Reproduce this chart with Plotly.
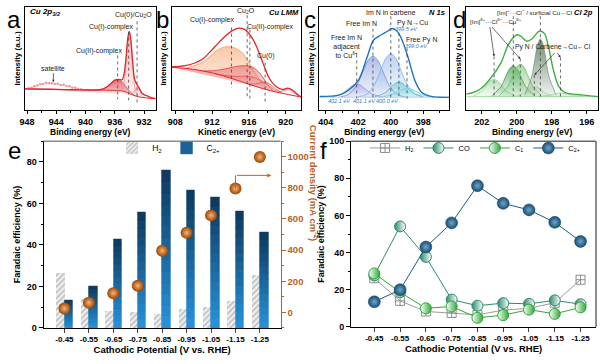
import plotly.graph_objects as go

FONT = "Liberation Sans, Arial, Helvetica, sans-serif"

# ---------------- panel a : Cu 2p3/2 ----------------
a_base_E = [948.3, 944.0, 940.0, 937.5, 936.0, 935.0, 934.5, 934.0, 933.5, 933.0, 932.5, 932.0, 931.0, 930.4]
a_base_I = [20.5, 20.0, 19.5, 19.3, 19.0, 18.5, 17.5, 16.0, 14.5, 13.3, 12.5, 12.0, 11.3, 11.0]
a_fit_E = [948.3, 946, 944, 942, 940, 939, 938, 937.2, 936.5, 936.0, 935.5, 935.0, 934.7, 934.4, 934.2,
           934.0, 933.8, 933.6, 933.3, 933.0, 932.7, 932.3, 932.0, 931.5, 931.0, 930.4]
a_fit_I = [20.5, 20.3, 20.0, 19.7, 19.5, 19.4, 19.8, 21.8, 26.0, 29.0, 29.7, 29.3, 35.7, 55.6, 70.8,
           76.0, 68.0, 50.7, 30.2, 25.0, 21.8, 16.5, 15.0, 13.5, 12.0, 11.0]
a_cu2_E = [938.5, 937.5, 936.8, 936.2, 935.6, 935.0, 934.4, 933.8, 933.2]
a_cu2_I = [19.4, 20.7, 24.0, 27.9, 29.7, 27.4, 22.0, 17.1, 13.7]
a_cu1_E = [935.2, 934.8, 934.5, 934.25, 934.0, 933.75, 933.5, 933.2, 932.8]
a_cu1_I = [18.6, 24.7, 42.2, 63.8, 74.0, 62.2, 39.2, 20.2, 13.0]
a_cu0_E = [933.8, 933.4, 933.1, 932.9, 932.6, 932.3, 931.9]
a_cu0_I = [15.4, 17.6, 21.9, 23.1, 19.5, 14.3, 11.9]
a_sat_E = [947.8, 947.4, 947.0, 946.6, 946.2, 945.8, 945.4, 945.0, 944.6, 944.2, 943.8, 943.4, 943.0,
           942.6, 942.2, 941.8, 941.4, 941.0, 940.6]
a_sat_I = [21.2, 21.6, 23.1, 23.8, 25.1, 25.3, 26.4, 25.9, 26.1, 25.2, 25.4, 24.3, 24.5, 23.2, 23.0,
           21.7, 21.5, 20.4, 20.2]

# ---------------- panel b : Cu LMM ----------------
b_base_E = [907.6, 910.0, 912.0, 914.0, 916.0, 918.0, 920.0, 921.7]
b_base_I = [41.5, 39.5, 36.0, 31.0, 25.0, 19.5, 15.5, 12.5]
b_fit_E = [907.6, 909.1, 910.9, 912.0, 913.1, 914.2, 914.9, 915.6, 916.4, 916.9, 917.5, 918.2, 918.9,
           919.6, 920.2, 920.7, 921.45, 921.7]
b_fit_I = [42.0, 43.0, 49.0, 58.5, 69.0, 77.0, 79.4, 77.8, 69.0, 60.0, 46.0, 30.8, 23.0, 20.0, 21.2,
           19.4, 13.8, 12.5]
b_cu1_E = [909.0, 910.9, 912.0, 912.7, 913.6, 914.5, 915.3, 916.0, 916.7, 917.5, 918.2]
b_cu1_I = [40.2, 46.0, 53.8, 59.0, 61.5, 60.0, 55.4, 46.0, 35.4, 26.0, 19.3]
b_cu2o_E = [911.0, 912.5, 913.7, 914.8, 915.6, 916.4, 917.2, 918.0, 918.6]
b_cu2o_I = [37.8, 38.5, 40.5, 42.5, 43.0, 41.5, 35.5, 25.0, 18.5]
b_cuii_E = [912.2, 913.5, 914.6, 915.6, 916.4, 917.2, 918.0, 918.8, 919.4]
b_cuii_I = [35.6, 33.5, 32.6, 32.8, 32.0, 29.0, 24.5, 19.5, 16.8]
b_cu0_E = [916.0, 916.8, 917.4, 917.8, 918.3, 918.9, 919.5]
b_cu0_I = [25.0, 25.5, 26.5, 26.8, 25.0, 20.5, 17.1]
b_sat_E = [919.3, 919.8, 920.3, 920.8, 921.3]
b_sat_I = [17.3, 19.0, 20.5, 18.0, 13.4]

# ---------------- panel c : N 1s ----------------
c_base_E = [404.4, 396.4]
c_base_I = [12.5, 12.5]
c_fit_E = [404.4, 403.2, 402.59, 401.98, 401.47, 401.07, 400.66, 400.15, 399.95, 399.64, 399.34,
           398.93, 398.53, 398.12, 397.51, 396.4]
c_fit_I = [13.2, 14.5, 19.4, 29.2, 50.8, 67.7, 72.3, 76.9, 79.1, 76.9, 69.2, 50.8, 29.2, 17.5, 13.2, 12.3]
c_p4021_E = [403.6, 403.0, 402.6, 402.3, 402.1, 401.9, 401.6, 401.2, 400.6]
c_p4021_I = [12.8, 15.9, 20.9, 24.4, 25.2, 24.4, 20.9, 15.9, 12.8]
c_p4011_E = [403.1, 402.6, 402.1, 401.7, 401.4, 401.1, 400.8, 400.5, 400.1, 399.6, 399.1]
c_p4011_I = [12.8, 15.0, 24.0, 38.0, 48.1, 52.3, 48.1, 38.0, 24.0, 15.0, 12.8]
c_p4000_E = [402.0, 401.5, 401.0, 400.6, 400.3, 400.0, 399.7, 399.4, 399.0, 398.5, 398.0]
c_p4000_I = [12.8, 15.2, 24.8, 39.6, 50.4, 54.8, 50.4, 39.6, 24.8, 15.2, 12.8]
c_p3995_E = [401.0, 400.4, 400.0, 399.7, 399.5, 399.3, 399.0, 398.6, 398.0]
c_p3995_I = [12.9, 16.3, 22.1, 26.1, 27.0, 26.1, 22.1, 16.3, 12.9]
c_p3990_E = [400.6, 400.0, 399.5, 399.2, 399.0, 398.8, 398.5, 398.0, 397.4]
c_p3990_I = [12.7, 14.6, 18.5, 20.5, 21.0, 20.5, 18.5, 14.6, 12.7]

# ---------------- panel d : Cl 2p ----------------
d_base_E = [202.9, 195.35]
d_base_I = [13.0, 13.0]
d_fit_E = [202.9, 202.5, 202.06, 201.5, 200.9, 200.54, 200.26, 199.97, 199.75, 199.44, 199.12, 198.8,
           198.65, 198.4, 198.17, 197.9, 197.6, 197.23, 196.75, 196.2, 195.35]
d_fit_I = [15.4, 17.0, 20.6, 30.8, 46.0, 61.5, 69.2, 73.0, 71.4, 66.8, 69.2, 75.4, 76.6, 73.8, 60.0,
           38.5, 23.0, 16.9, 15.4, 14.5, 13.0]
d_p2012_E = [202.5, 202.0, 201.7, 201.5, 201.3, 201.1, 200.9, 200.6, 200.1]
d_p2012_I = [13.6, 18.5, 24.7, 28.3, 29.8, 28.3, 24.7, 18.5, 13.6]
d_p2002_E = [201.4, 200.9, 200.6, 200.4, 200.2, 200.0, 199.8, 199.5, 199.0]
d_p2002_I = [14.1, 22.9, 33.7, 40.3, 43.0, 40.3, 33.7, 22.9, 14.1]
d_p1998_E = [201.0, 200.5, 200.2, 200.0, 199.8, 199.6, 199.4, 199.1, 198.6]
d_p1998_I = [14.2, 23.4, 34.8, 41.8, 44.6, 41.8, 34.8, 23.4, 14.2]
d_p1990_E = [200.0, 199.6, 199.3, 199.0, 198.7, 198.4, 198.0]
d_p1990_I = [13.6, 16.7, 20.8, 23.0, 20.8, 16.7, 13.6]
d_p1987_E = [199.55, 199.15, 198.95, 198.8, 198.65, 198.5, 198.35, 198.15, 197.75]
d_p1987_I = [14.7, 32.0, 51.0, 63.8, 69.0, 63.8, 51.0, 32.0, 14.7]
d_p1975_E = [198.7, 198.2, 197.8, 197.5, 197.2, 196.8, 196.3]
d_p1975_I = [13.2, 14.4, 15.9, 16.5, 15.9, 14.4, 13.2]

# ---------------- panels e / f ----------------
potentials = ["-0.45", "-0.55", "-0.65", "-0.75", "-0.85", "-0.95", "-1.05", "-1.15", "-1.25"]
fe_h2 = [26.2, 14.0, 8.3, 7.5, 6.5, 9.0, 10.0, 13.0, 25.4]
fe_c2 = [13.5, 20.0, 43.0, 56.0, 76.0, 66.5, 63.0, 56.3, 46.0]
current_density = [25, 62, 123, 171, 396, 511, 623, 796, 998]
fe_co = [27.8, 54.1, 37.7, 14.7, 11.4, 12.8, 12.4, 14.3, 12.2]
fe_c1 = [28.8, 18.7, 10.0, 11.0, 4.9, 6.3, 9.3, 7.0, 10.5]

# ======================================================
fig = go.Figure()


def rgba(hexc, a):
    hexc = hexc.lstrip("#")
    return "rgba(%d,%d,%d,%s)" % (int(hexc[0:2], 16), int(hexc[2:4], 16), int(hexc[4:6], 16), a)


def mix(c1, c2, t):
    c1 = c1.lstrip("#"); c2 = c2.lstrip("#")
    v = [round(int(c1[i:i + 2], 16) * (1 - t) + int(c2[i:i + 2], 16) * t) for i in (0, 2, 4)]
    return "rgb(%d,%d,%d)" % tuple(v)


def add_line(E, I, color, xa, ya, width=1.2):
    fig.add_trace(go.Scatter(x=E, y=I, mode="lines",
                             line=dict(color=color, width=width, shape="spline", smoothing=0.8),
                             hoverinfo="skip", showlegend=False, xaxis=xa, yaxis=ya))


def add_comp(E, I, bE, bI, edge, fill, xa, ya, a_top=0.6, a_bot=0.06):
    fig.add_trace(go.Scatter(x=bE, y=bI, mode="lines", line=dict(width=0, color="rgba(0,0,0,0)"),
                             hoverinfo="skip", showlegend=False, xaxis=xa, yaxis=ya))
    fig.add_trace(go.Scatter(x=E, y=I, mode="lines",
                             line=dict(color=edge, width=0.8, shape="spline", smoothing=0.8),
                             fill="tonexty",
                             fillgradient=dict(type="vertical",
                                               colorscale=[[0, rgba(fill, a_bot)], [1, rgba(fill, a_top)]]),
                             hoverinfo="skip", showlegend=False, xaxis=xa, yaxis=ya))


# ---- a ----
add_comp(a_cu2_E, a_cu2_I, a_base_E, a_base_I, "#e0474f", "#de3c46", "x", "y", 0.75, 0.1)
add_comp(a_cu1_E, a_cu1_I, a_base_E, a_base_I, "#f08a8f", "#f27b82", "x", "y", 0.55, 0.08)
add_comp(a_cu0_E, a_cu0_I, a_base_E, a_base_I, "#f0a0a4", "#f39aa0", "x", "y", 0.5, 0.08)
add_line(a_base_E, a_base_I, "#e3262b", "x", "y", 1.0)
fig.add_trace(go.Scatter(x=a_sat_E, y=a_sat_I, mode="lines+markers",
                         line=dict(color="#f5b3b3", width=0.8), marker=dict(size=2.5, color="#f29a9a"),
                         hoverinfo="skip", showlegend=False, xaxis="x", yaxis="y"))
add_line(a_fit_E, a_fit_I, "#e3262b", "x", "y", 1.3)

# ---- b ----
add_comp(b_cu1_E, b_cu1_I, b_base_E, b_base_I, "#f39a5b", "#f6a46e", "x2", "y2", 0.6, 0.1)
add_comp(b_cu2o_E, b_cu2o_I, b_base_E, b_base_I, "#d93a3f", "#e4575c", "x2", "y2", 0.5, 0.08)
add_comp(b_cuii_E, b_cuii_I, b_base_E, b_base_I, "#e2555b", "#e86a70", "x2", "y2", 0.5, 0.08)
add_comp(b_cu0_E, b_cu0_I, b_base_E, b_base_I, "#e2555b", "#ee8a8e", "x2", "y2", 0.5, 0.08)
add_comp(b_sat_E, b_sat_I, b_base_E, b_base_I, "#e2555b", "#ee8a8e", "x2", "y2", 0.5, 0.08)
add_line(b_base_E, b_base_I, "#e3262b", "x2", "y2", 1.0)
add_line(b_fit_E, b_fit_I, "#e3262b", "x2", "y2", 1.3)

# ---- c ----
add_comp(c_p4021_E, c_p4021_I, c_base_E, c_base_I, "#8f90de", "#9b9be6", "x3", "y3", 0.6, 0.08)
add_comp(c_p4011_E, c_p4011_I, c_base_E, c_base_I, "#7088d6", "#7a92dc", "x3", "y3", 0.6, 0.08)
add_comp(c_p4000_E, c_p4000_I, c_base_E, c_base_I, "#86aee6", "#8fb5ea", "x3", "y3", 0.6, 0.08)
add_comp(c_p3995_E, c_p3995_I, c_base_E, c_base_I, "#4fb9cc", "#5cc0d2", "x3", "y3", 0.6, 0.08)
add_comp(c_p3990_E, c_p3990_I, c_base_E, c_base_I, "#66d2de", "#7fdbe4", "x3", "y3", 0.6, 0.08)
add_line(c_base_E, c_base_I, "#a8c4e4", "x3", "y3", 0.8)
add_line(c_fit_E, c_fit_I, "#1e73be", "x3", "y3", 1.4)

# ---- d ----
add_comp(d_p2012_E, d_p2012_I, d_base_E, d_base_I, "#8fd38c", "#8fd38c", "x4", "y4", 0.65, 0.08)
add_comp(d_p2002_E, d_p2002_I, d_base_E, d_base_I, "#3f9a4a", "#3f9a4a", "x4", "y4", 0.7, 0.08)
add_comp(d_p1998_E, d_p1998_I, d_base_E, d_base_I, "#6cc06a", "#6cc06a", "x4", "y4", 0.6, 0.08)
add_comp(d_p1990_E, d_p1990_I, d_base_E, d_base_I, "#a9dca3", "#a9dca3", "x4", "y4", 0.5, 0.06)
add_comp(d_p1987_E, d_p1987_I, d_base_E, d_base_I, "#7f9c80", "#5f7f62", "x4", "y4", 0.9, 0.08)
add_comp(d_p1975_E, d_p1975_I, d_base_E, d_base_I, "#9fd99a", "#9fd99a", "x4", "y4", 0.5, 0.06)
add_line(d_base_E, d_base_I, "#9ad296", "x4", "y4", 0.8)
add_line(d_fit_E, d_fit_I, "#3cb043", "x4", "y4", 1.4)

# ---- e ----
idx = list(range(len(potentials)))
BW = 0.34
fig.add_trace(go.Bar(x=idx, y=fe_h2, width=BW, offset=-BW, name="H<sub>2</sub>",
                     marker=dict(color="#eeeeee",
                                 pattern=dict(shape="/", fgcolor="#8c8c8c", bgcolor="#efefef",
                                              size=4, solidity=0.4),
                                 line=dict(width=0)),
                     xaxis="x5", yaxis="y5", legend="legend", hoverinfo="skip"))
NSEG = 14
for k in range(NSEG):
    col = mix("#2690d8", "#0f3b60", k / (NSEG - 1))
    fig.add_trace(go.Bar(x=idx, y=[v / NSEG for v in fe_c2], base=[v * k / NSEG for v in fe_c2],
                         width=BW, offset=0, name="C<sub>2+</sub>",
                         marker=dict(color=col, line=dict(width=0.4, color=col)),
                         showlegend=(k == NSEG // 2), xaxis="x5", yaxis="y5", legend="legend",
                         hoverinfo="skip"))
fig.add_trace(go.Scatter(x=idx, y=current_density, mode="markers",
                         marker=dict(size=12, color="#9a4700",
                                     gradient=dict(type="radial", color="#f6b47a"),
                                     line=dict(width=0)),
                         showlegend=False, xaxis="x5", yaxis="y7", hoverinfo="skip"))

# ---- f ----
fig.add_trace(go.Scatter(x=idx, y=fe_h2, mode="lines+markers", name="H<sub>2</sub>",
                         line=dict(color="#9b9b9b", width=1),
                         marker=dict(symbol="square-cross-open", size=9, color="#8c8c8c",
                                     line=dict(width=1)),
                         xaxis="x6", yaxis="y6", legend="legend2", hoverinfo="skip"))
fig.add_trace(go.Scatter(x=idx, y=fe_co, mode="lines+markers", name="CO",
                         line=dict(color="#2e8b6e", width=1),
                         marker=dict(symbol="circle", size=11, color="#2e8b6e",
                                     gradient=dict(type="horizontal", color="#ffffff"),
                                     line=dict(width=1, color="#2e8b6e")),
                         xaxis="x6", yaxis="y6", legend="legend2", hoverinfo="skip"))
fig.add_trace(go.Scatter(x=idx, y=fe_c1, mode="lines+markers", name="C<sub>1</sub>",
                         line=dict(color="#2fa836", width=1),
                         marker=dict(symbol="circle", size=11, color="#ffffff",
                                     gradient=dict(type="horizontal", color="#2fa836"),
                                     line=dict(width=1, color="#2fa836")),
                         xaxis="x6", yaxis="y6", legend="legend2", hoverinfo="skip"))
fig.add_trace(go.Scatter(x=idx, y=fe_c2, mode="lines+markers", name="C<sub>2+</sub>",
                         line=dict(color="#1f5b82", width=1),
                         marker=dict(symbol="circle", size=12, color="#174f74",
                                     gradient=dict(type="radial", color="#6fa6c8"),
                                     line=dict(width=0.5, color="#123f5e")),
                         xaxis="x6", yaxis="y6", legend="legend2", hoverinfo="skip"))

# ======================================================
TICKF = dict(family=FONT, size=9, color="black", weight="bold")
TITLEF = dict(family=FONT, size=8.5, color="black", weight="bold")


def top_x(dom, rng, dtick, title, anchor):
    return dict(domain=dom, range=rng, anchor=anchor, showline=True, linecolor="black", linewidth=1,
                mirror=True, ticks="outside", ticklen=3, tickcolor="black", dtick=dtick, tick0=0,
                minor=dict(dtick=dtick / 2, ticks="outside", ticklen=2, tickcolor="black"),
                tickfont=TICKF, showgrid=False, zeroline=False,
                title=dict(text=title, font=TITLEF, standoff=3))


def top_y(anchor):
    return dict(domain=[0.7033, 0.9945], range=[0, 100], anchor=anchor, showline=True, linecolor="black",
                linewidth=1, mirror=True, showticklabels=False, ticks="", showgrid=False, zeroline=False,
                title=dict(text="Intensity (a.u.)", font=dict(family=FONT, size=8, color="black",
                                                             weight="bold"), standoff=2))


layout = dict(
    width=600, height=364, autosize=False,
    margin=dict(l=0, r=0, t=0, b=0),
    paper_bgcolor="white", plot_bgcolor="white",
    font=dict(family=FONT, color="black"),
    barmode="overlay", bargap=0,
    xaxis=top_x([0.0333, 0.2533], [948.3, 930.4], 4, "Binding energy (eV)", "y"),
    yaxis=top_y("x"),
    xaxis2=top_x([0.28, 0.4983], [907.6, 921.7], 4, "Kinetic energy (eV)", "y2"),
    yaxis2=top_y("x2"),
    xaxis3=top_x([0.5283, 0.7467], [404.4, 396.4], 2, "Binding energy (eV)", "y3"),
    yaxis3=top_y("x3"),
    xaxis4=top_x([0.775, 0.9967], [202.9, 195.35], 2, "Binding energy (eV)", "y4"),
    yaxis4=top_y("x4"),
    xaxis5=dict(domain=[0.065, 0.4633], range=[-0.85, 8.85], anchor="y5", tickvals=idx,
                ticktext=potentials, showline=True, linecolor="black", linewidth=1, ticks="outside",
                ticklen=4, tickfont=dict(family=FONT, size=8, color="black", weight="bold"),
                showgrid=False, zeroline=False,
                title=dict(text="Cathodic Potential (V vs. RHE)",
                           font=dict(family=FONT, size=9.5, color="black", weight="bold"), standoff=2)),
    yaxis5=dict(domain=[0.0879, 0.6154], range=[0, 90], anchor="x5", dtick=20, showline=True,
                linecolor="black", linewidth=1, ticks="outside", ticklen=4, tickcolor="black",
                minor=dict(dtick=10, ticks="outside", ticklen=2, tickcolor="black"),
                tickfont=TICKF, showgrid=False, zeroline=False,
                title=dict(text="Faradaic efficiency (%)",
                           font=dict(family=FONT, size=9, color="black", weight="bold"), standoff=4)),
    yaxis7=dict(overlaying="y5", side="right", anchor="x5", range=[-100, 1100],
                tickvals=[0, 200, 400, 600, 800, 1000],
                showline=True, linecolor="#b8621b", linewidth=1, ticks="outside", ticklen=4,
                tickcolor="#b8621b", minor=dict(dtick=100, tick0=0, ticks="outside", ticklen=2,
                                                 tickcolor="#b8621b"),
                tickfont=dict(family=FONT, size=9.5, color="#b8621b", weight="bold"),
                showgrid=False, zeroline=False),
    xaxis6=dict(domain=[0.5817, 0.9933], range=[-0.9, 8.6], anchor="y6", tickvals=idx,
                ticktext=potentials, showline=True, linecolor="black", linewidth=1, ticks="outside",
                ticklen=4, tickfont=dict(family=FONT, size=8, color="black", weight="bold"),
                showgrid=False, zeroline=False,
                title=dict(text="Cathodic Potential (V vs. RHE)",
                           font=dict(family=FONT, size=9.5, color="black", weight="bold"), standoff=2)),
    yaxis6=dict(domain=[0.0907, 0.6154], range=[0, 100], anchor="x6", dtick=20, showline=True,
                linecolor="black", linewidth=1, ticks="outside", ticklen=4, tickcolor="black",
                minor=dict(dtick=10, ticks="outside", ticklen=2, tickcolor="black"),
                tickfont=TICKF, showgrid=False, zeroline=False,
                title=dict(text="Faradaic efficiency (%)",
                           font=dict(family=FONT, size=9, color="black", weight="bold"), standoff=3)),
    legend=dict(orientation="h", x=0.275, xanchor="center", y=1 - 147 / 364, yanchor="middle",
                bgcolor="rgba(0,0,0,0)", font=dict(family=FONT, size=8.5), itemwidth=30,
                tracegroupgap=0, traceorder="normal"),
    legend2=dict(orientation="h", x=0.79, xanchor="center", y=1 - 147 / 364, yanchor="middle",
                 bgcolor="rgba(0,0,0,0)", font=dict(family=FONT, size=7.5), itemwidth=30,
                 tracegroupgap=0),
)
fig.update_layout(**layout)

# ---------------- shapes ----------------
shapes = []


def vdot(xa, ya, xv, y0, y1):
    shapes.append(dict(type="line", xref=xa, yref=ya, x0=xv, x1=xv, y0=y0, y1=y1,
                       line=dict(color="#444444", width=0.8, dash="dot")))


vdot("x", "y", 935.6, 53, 10.5)
vdot("x", "y", 934.1, 76, 9.5)
vdot("x", "y", 932.95, 86, 6.5)
vdot("x2", "y2", 914.1, 80, 21.5)
vdot("x2", "y2", 915.8, 92, 10.8)
vdot("x2", "y2", 916.1, 78, 10.0)
vdot("x2", "y2", 917.75, 46, 6.0)
vdot("x3", "y3", 402.1, 54, 11)
vdot("x3", "y3", 401.1, 79, 11)
vdot("x3", "y3", 400.0, 91, 11)
vdot("x3", "y3", 399.5, 75, 11)
vdot("x3", "y3", 399.0, 60, 11)
vdot("x4", "y4", 201.3, 52, 13)
vdot("x4", "y4", 200.2, 91, 13)
vdot("x4", "y4", 199.8, 50, 13)
vdot("x4", "y4", 199.0, 34, 13)
vdot("x4", "y4", 198.65, 91, 13)
vdot("x4", "y4", 197.5, 51, 13)
shapes.append(dict(type="line", xref="x5 domain", yref="y5 domain", x0=0, x1=1, y0=1, y1=1,
                   line=dict(color="#8a8a8a", width=1.5)))
shapes.append(dict(type="line", xref="x6 domain", yref="y6 domain", x0=0, x1=1, y0=1, y1=1,
                   line=dict(color="#666666", width=1.5)))
shapes.append(dict(type="line", xref="x6 domain", yref="y6 domain", x0=1, x1=1, y0=0, y1=1,
                   line=dict(color="#666666", width=1.5)))
shapes.append(dict(type="line", xref="x5", yref="y7", x0=7, x1=7, y0=current_density[7], y1=880,
                   line=dict(color="#c0651e", width=1)))
fig.update_layout(shapes=shapes)

# ---------------- annotations ----------------
ann = []


def txt(xa, ya, x, y, text, size=7, color="#222222", xanchor="center", yanchor="middle"):
    ann.append(dict(xref=xa, yref=ya, x=x, y=y, text=text, showarrow=False, xanchor=xanchor,
                    yanchor=yanchor, font=dict(family=FONT, size=size, color=color)))


# panel letters
for lt, px, py in [("a", 1, 0), ("b", 151, 0), ("c", 300, 0), ("d", 451, 0), ("e", 2, 135),
                   ("f", 317, 135)]:
    ann.append(dict(xref="paper", yref="paper", x=px / 600, y=1 - py / 364, text=lt, showarrow=False,
                    xanchor="left", yanchor="top", borderpad=0,
                    font=dict(family=FONT, size=24, color="black")))

# a
txt("x", "y", 947.9, 95, "<b><i>Cu 2p<sub>3/2</sub></i></b>", 8, "black", "left")
txt("x", "y", 930.6, 92, "Cu(0)/Cu<sub>2</sub>O", 7, xanchor="right")
txt("x", "y", 936.5, 80.5, "Cu(I)-complex")
txt("x", "y", 938.2, 57.5, "Cu(II)-complex")
ann.append(dict(xref="x", yref="y", x=944.4, y=27, ax=0, ay=-14, text="satellite", showarrow=True,
                arrowhead=2, arrowsize=0.6, arrowwidth=0.8, arrowcolor="#333",
                font=dict(family=FONT, size=7, color="#222")))
# b
txt("x2", "y2", 912.0, 87, "Cu(I)-complex")
txt("x2", "y2", 915.7, 96, "Cu<sub>2</sub>O")
txt("x2", "y2", 918.3, 81, "Cu(II)-complex")
txt("x2", "y2", 917.9, 52.5, "Cu(0)")
txt("x2", "y2", 921.6, 95, "<b><i>Cu LMM</i></b>", 7.5, "black", "right")
# c
txt("x3", "y3", 400.0, 95, "Im N in carbene")
txt("x3", "y3", 396.55, 95, "<b><i>N 1s</i></b>", 7.5, "black", "right")
txt("x3", "y3", 401.78, 83.7, "Free Im N")
txt("x3", "y3", 398.67, 84.6, "Py N→Cu")
txt("x3", "y3", 399.03, 78.3, "<i>399.5 eV</i>", 5.5, "#2f7fc1")
txt("x3", "y3", 398.06, 67.9, "Free Py N")
txt("x3", "y3", 398.4, 61.8, "<i>399.0 eV</i>", 5.5, "#2f7fc1")
txt("x3", "y3", 402.75, 62, "Free Im N<br>adjacent<br>to Cu<sup>δ+</sup>")
txt("x3", "y3", 403.18, 8.5, "<i>402.1 eV</i>", 5.5, "#2f7fc1")
txt("x3", "y3", 401.6, 8.5, "<i>401.1 eV</i>", 5.5, "#2f7fc1")
txt("x3", "y3", 400.2, 8.5, "<i>400.0 eV</i>", 5.5, "#2f7fc1")
# d
txt("x4", "y4", 199.0, 95, "[Im]<sup>+</sup>···Cl<sup>−</sup> / surficial Cu←Cl", 6.2)
txt("x4", "y4", 195.5, 95, "<b><i>Cl 2p</i></b>", 7.5, "black", "right")
txt("x4", "y4", 201.2, 86.8, "[Im]<sup>δ+</sup>···Cl<sup>δ−</sup>···Cu<sup>δ+</sup>", 6.2)
txt("x4", "y4", 197.9, 61, "Py N / Carbene→Cu←Cl", 6.8)
for (hx, hy, tx, ty) in [(201.3, 52, 201.55, 82), (199.8, 49.5, 201.5, 82),
                         (198.99, 34, 197.75, 57), (197.5, 51, 197.75, 57)]:
    ann.append(dict(xref="x4", yref="y4", x=hx, y=hy, ax=tx, ay=ty, axref="x4", ayref="y4",
                    text="", showarrow=True, arrowhead=2, arrowsize=0.7, arrowwidth=0.7,
                    arrowcolor="#333"))
# e: arrow toward right axis and right-axis title
ann.append(dict(xref="x5", yref="y7", x=8.47, y=880, ax=7, ay=880, axref="x5", ayref="y7", text="",
                showarrow=True, arrowhead=2, arrowsize=0.8, arrowwidth=1, arrowcolor="#c0651e"))
ann.append(dict(xref="paper", yref="paper", x=311 / 600, y=1 - 245 / 364, textangle=90,
                text="<b>Current density (mA cm<sup>-2</sup>)</b>", showarrow=False,
                font=dict(family=FONT, size=9.5, color="#b8621b")))
fig.update_layout(annotations=ann)

fig.write_html("out.html", config={"displayModeBar": False},
               post_script="document.body.style.margin='0px';document.body.style.padding='0px';"
                           "document.body.style.overflow='hidden';")
